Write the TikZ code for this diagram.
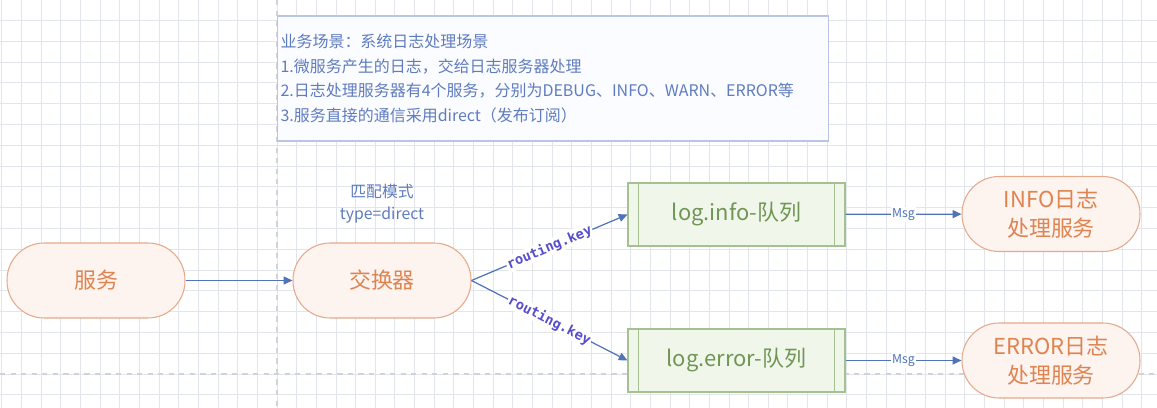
\documentclass[tikz,border=0pt]{standalone}
\usepackage{fontspec}
\setmainfont{Noto Sans CJK SC}
\newfontfamily\keyfont{DejaVu Sans Mono}
\usepackage{xcolor}
\definecolor{gridc}{RGB}{226,229,236}
\definecolor{breakc}{RGB}{208,211,219}
\definecolor{descline}{RGB}{186,196,228}
\definecolor{descfill}{RGB}{251,252,255}
\definecolor{desctext}{RGB}{95,124,190}
\definecolor{svcfill}{RGB}{253,243,239}
\definecolor{svcline}{RGB}{228,170,140}
\definecolor{svctext}{RGB}{222,132,80}
\definecolor{qfill}{RGB}{241,246,235}
\definecolor{qline}{RGB}{165,192,145}
\definecolor{qtext}{RGB}{112,150,85}
\definecolor{linkc}{RGB}{80,115,185}
\definecolor{keyc}{RGB}{88,78,205}
\usetikzlibrary{arrows.meta,positioning,calc}

\begin{document}
\begin{tikzpicture}[x=0.02cm,y=-0.02cm,
  gridline/.style={draw=gridc,line width=0.5pt},
  svc/.style={draw=svcline,fill=svcfill,text=svctext,line width=0.6pt,rounded corners=0.74cm,minimum width=3.56cm,minimum height=1.5cm,align=center,font=\fontsize{12.5}{16.5}\selectfont},
  queue/.style={draw=qline,fill=qfill,text=qtext,line width=0.6pt,minimum width=4.34cm,minimum height=1.26cm,font=\fontsize{12.5}{15}\selectfont},
  link/.style={draw=linkc,line width=0.7pt,-{Triangle[length=5pt,width=4.5pt]}},
  keylbl/.style={sloped,fill=white,inner sep=0.6pt,text=keyc,font=\keyfont\bfseries\fontsize{7.8}{9}\selectfont},
  msglbl/.style={fill=white,inner sep=0.8pt,text=linkc,font=\fontsize{7}{8}\selectfont}]
  \useasboundingbox (0,0) rectangle (1157,408);
  \fill[white] (0,0) rectangle (1157,408);
  \foreach \k in {-14,...,45} \draw[gridline] (277+19.65*\k,0) -- (277+19.65*\k,408);
  \foreach \k in {-18,...,2} \draw[gridline] (0,374+20.8*\k) -- (1157,374+20.8*\k);
  \draw[breakc,dashed,line width=0.6pt] (277,0) -- (277,408);
  \draw[breakc,dashed,line width=0.6pt] (0,374) -- (1157,374);

  \node[draw=descline,fill=descfill,line width=0.6pt,text=desctext,minimum height=2.5cm,text width=10.9cm,inner xsep=0.07cm,align=left,font=\fontsize{9.1}{13.9}\selectfont] (scene) at (553,78.5) {业务场景：系统日志处理场景\\1.微服务产生的日志，交给日志服务器处理\\2.日志处理服务器有4个服务，分别为DEBUG、INFO、WARN、ERROR等\\3.服务直接的通信采用direct（发布订阅）};

  \node[svc] (svc) at (96,280.5) {服务};
  \node[svc] (exch) at (382,280.5) {交换器};
  \node[text=desctext,align=center,font=\fontsize{9}{12.5}\selectfont] (mode) at (382,204) {匹配模式\\type=direct};
  \node[queue] (qinfo) at (736.5,214.5) {log.info-队列};
  \node[queue] (qerror) at (736.5,360.5) {log.error-队列};
  \node[svc] (hinfo) at (1051,214) {INFO日志\\处理服务};
  \node[svc] (herror) at (1051,360.5) {ERROR日志\\处理服务};
  \foreach \q in {qinfo,qerror} {
    \draw[qline,line width=0.6pt] ([xshift=0.22cm]\q.north west) -- ([xshift=0.22cm]\q.south west);
    \draw[qline,line width=0.6pt] ([xshift=-0.22cm]\q.north east) -- ([xshift=-0.22cm]\q.south east);
  }

  \draw[link] (svc) -- (exch);
  \draw[link] (exch.east) -- node[keylbl] {routing.key} (qinfo.west);
  \draw[link] (exch.east) -- node[keylbl] {routing.key} (qerror.west);
  \draw[link] (qinfo) -- node[msglbl] {Msg} (hinfo);
  \draw[link] (qerror) -- node[msglbl] {Msg} (herror);
\end{tikzpicture}
\end{document}
